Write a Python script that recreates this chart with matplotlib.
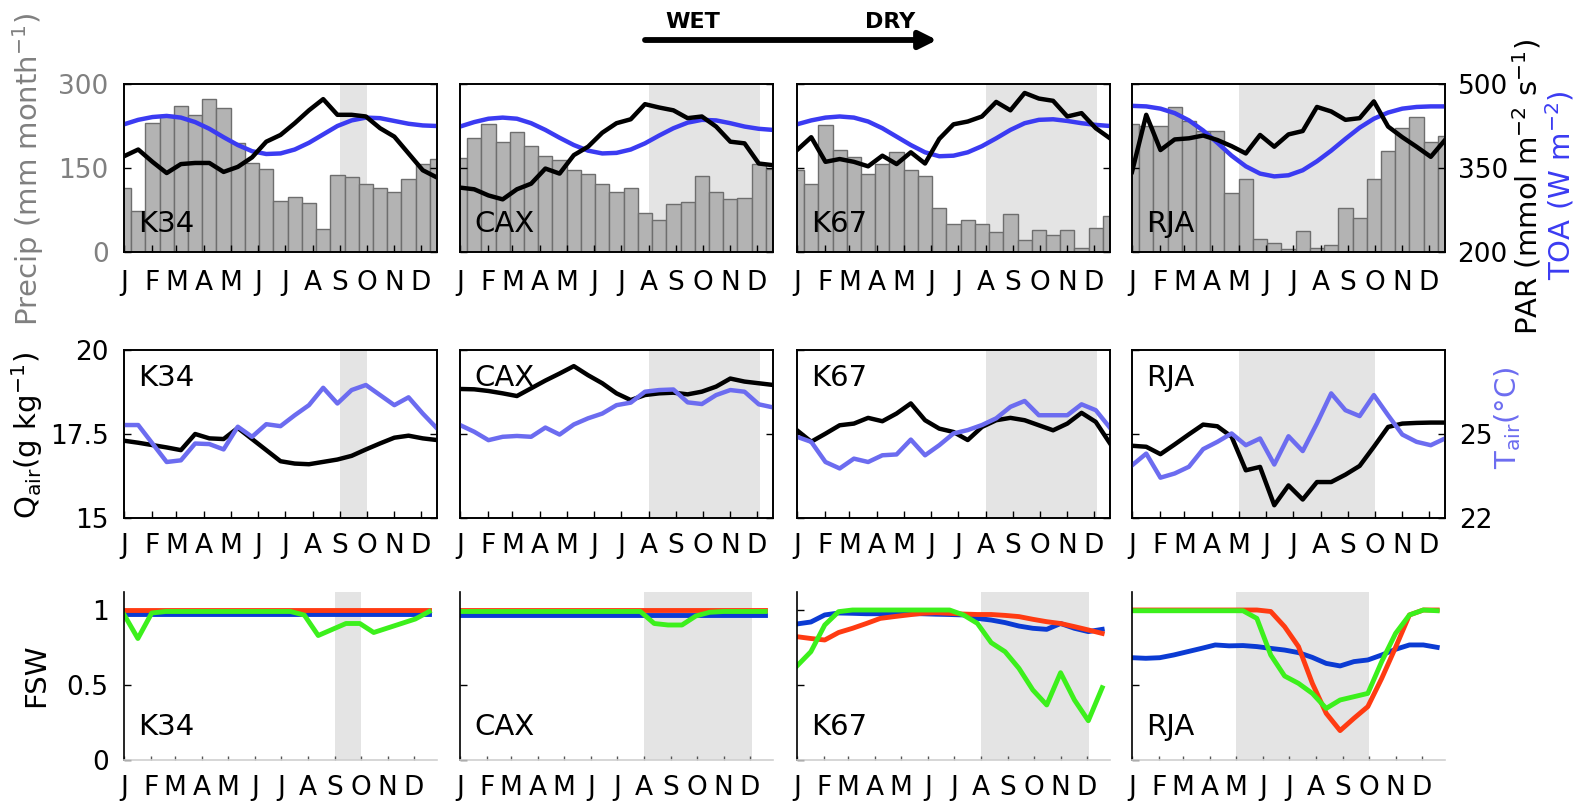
import numpy as np
import matplotlib
matplotlib.use('Agg')
import matplotlib.pyplot as plt

plt.rcParams['font.family'] = ['DejaVu Sans']
plt.rcParams['mathtext.default'] = 'regular'

sites = ['K34', 'CAX', 'K67', 'RJA']
doy = np.arange(1, 354, 16)  # 16-day periods
month_doy = [1, 32, 60, 91, 121, 152, 182, 213, 244, 274, 305, 335]
month_lbl = ['J', 'F', 'M', 'A', 'M', 'J', 'J', 'A', 'S', 'O', 'N', 'D']

dry = {'K34': (244, 274), 'CAX': (213, 338), 'K67': (213, 338), 'RJA': (121, 274)}

# precipitation (mm month-1)
precip = {
    'K34': [115, 73, 231, 245, 260, 245, 273, 258, 194, 159, 149, 91, 99, 87, 41, 137, 134, 121, 115, 108, 130, 157, 166],
    'CAX': [168, 204, 228, 196, 215, 190, 171, 164, 146, 139, 122, 107, 115, 69, 57, 85, 89, 136, 107, 95, 97, 158, 149],
    'K67': [146, 122, 227, 182, 170, 140, 158, 179, 146, 135, 78, 50, 57, 50, 35, 67, 21, 39, 31, 39, 7, 42, 64],
    'RJA': [228, 225, 225, 259, 234, 216, 216, 106, 130, 24, 16, 6, 38, 8, 12, 78, 60, 130, 181, 222, 241, 196, 207],
}
# PAR (mmol m-2 s-1)
par = {
    'K34': [371, 383, 361, 341, 357, 359, 359, 343, 352, 369, 397, 409, 430, 453, 473, 445, 445, 442, 421, 406, 376, 346, 333],
    'CAX': [315, 312, 301, 294, 312, 322, 349, 340, 373, 388, 413, 430, 437, 464, 458, 453, 439, 442, 424, 397, 394, 358, 355],
    'K67': [382, 405, 361, 366, 361, 353, 372, 357, 378, 358, 402, 428, 433, 442, 468, 453, 484, 474, 470, 442, 448, 421, 403],
    'RJA': [343, 445, 382, 401, 403, 408, 400, 389, 376, 409, 388, 410, 416, 459, 451, 436, 439, 469, 424, 405, 388, 370, 400],
}
# top of atmosphere radiation (W m-2)
toa = {
    'K34': [428, 436, 441, 443, 440, 432, 420, 405, 391, 380, 375, 376, 383, 395, 410, 425, 435, 440, 439, 434, 429, 426, 425],
    'CAX': [424, 432, 438, 440, 438, 430, 418, 404, 391, 381, 376, 377, 383, 394, 408, 421, 431, 436, 435, 430, 424, 420, 418],
    'K67': [428, 435, 440, 442, 440, 433, 421, 406, 391, 378, 371, 372, 378, 389, 403, 418, 430, 436, 437, 434, 430, 427, 425],
    'RJA': [461, 460, 456, 448, 435, 417, 395, 372, 353, 340, 335, 337, 346, 362, 381, 402, 422, 438, 449, 456, 459, 460, 460],
}
# specific humidity (g kg-1)
qair = {
    'K34': [17.30, 17.24, 17.17, 17.10, 17.02, 17.50, 17.37, 17.35, 17.68, 17.35, 17.02, 16.69, 16.62, 16.60, 16.67, 16.74, 16.85, 17.04, 17.22, 17.39, 17.45, 17.37, 17.32],
    'CAX': [18.84, 18.83, 18.78, 18.71, 18.63, 18.86, 19.09, 19.30, 19.52, 19.25, 19.01, 18.71, 18.51, 18.66, 18.71, 18.73, 18.68, 18.76, 18.91, 19.15, 19.06, 19.01, 18.96],
    'K67': [17.61, 17.27, 17.51, 17.76, 17.81, 17.98, 17.88, 18.11, 18.41, 17.91, 17.66, 17.56, 17.32, 17.71, 17.91, 17.98, 17.91, 17.76, 17.61, 17.81, 18.13, 17.86, 17.22],
    'RJA': [17.15, 17.12, 16.90, 17.19, 17.49, 17.78, 17.73, 17.42, 16.42, 16.52, 15.38, 15.97, 15.55, 16.07, 16.07, 16.29, 16.55, 17.12, 17.71, 17.81, 17.83, 17.84, 17.84],
}
# air temperature (deg C)
tair = {
    'K34': [25.32, 25.32, 24.66, 24.00, 24.06, 24.66, 24.64, 24.45, 25.26, 24.90, 25.35, 25.28, 25.67, 26.03, 26.65, 26.09, 26.57, 26.75, 26.39, 26.03, 26.31, 25.73, 25.20],
    'CAX': [25.32, 25.08, 24.78, 24.90, 24.93, 24.90, 25.23, 24.98, 25.34, 25.56, 25.73, 26.03, 26.12, 26.51, 26.57, 26.59, 26.13, 26.07, 26.39, 26.57, 26.51, 26.06, 25.95],
    'K67': [24.90, 24.72, 24.00, 23.77, 24.12, 24.00, 24.24, 24.27, 24.80, 24.24, 24.60, 25.02, 25.14, 25.32, 25.56, 25.97, 26.18, 25.67, 25.67, 25.67, 26.06, 25.85, 25.22],
    'RJA': [23.88, 24.30, 23.44, 23.59, 23.83, 24.46, 24.72, 25.02, 24.60, 24.84, 23.91, 24.92, 24.39, 25.38, 26.45, 25.85, 25.64, 26.39, 25.67, 24.98, 24.72, 24.60, 24.84],
}
# fraction of soil water, three layers
fsw_red = {
    'K34': [1.0] * 23,
    'CAX': [1.0] * 23,
    'K67': [0.822, 0.81, 0.80, 0.85, 0.878, 0.91, 0.944, 0.956, 0.967, 0.978, 0.982, 0.978, 0.973, 0.97, 0.97, 0.964, 0.956, 0.938, 0.922, 0.91, 0.889, 0.867, 0.844],
    'RJA': [1.0, 1.0, 1.0, 1.0, 1.0, 1.0, 1.0, 1.0, 1.0, 1.0, 0.99, 0.889, 0.756, 0.511, 0.311, 0.196, 0.278, 0.356, 0.544, 0.751, 0.967, 1.0, 1.0],
}
fsw_blue = {
    'K34': [0.975] * 23,
    'CAX': [0.97] * 23,
    'K67': [0.907, 0.92, 0.967, 0.98, 0.978, 0.975, 0.975, 0.975, 0.975, 0.975, 0.972, 0.97, 0.967, 0.944, 0.933, 0.916, 0.893, 0.878, 0.871, 0.91, 0.878, 0.856, 0.871],
    'RJA': [0.682, 0.678, 0.682, 0.70, 0.722, 0.744, 0.767, 0.761, 0.763, 0.756, 0.744, 0.733, 0.716, 0.684, 0.644, 0.627, 0.656, 0.667, 0.70, 0.738, 0.767, 0.767, 0.751],
}
fsw_green = {
    'K34': [0.97, 0.81, 0.98, 0.99, 0.99, 0.99, 0.99, 0.99, 0.99, 0.99, 0.99, 0.99, 0.99, 0.966, 0.83, 0.87, 0.91, 0.91, 0.85, 0.88, 0.91, 0.94, 0.99],
    'CAX': [0.99, 0.99, 0.99, 0.99, 0.99, 0.99, 0.99, 0.99, 0.99, 0.99, 0.99, 0.99, 0.99, 0.99, 0.91, 0.90, 0.90, 0.96, 0.985, 0.99, 0.99, 0.99, 0.99],
    'K67': [0.627, 0.722, 0.90, 0.989, 1.0, 1.0, 1.0, 1.0, 1.0, 1.0, 1.0, 1.0, 0.967, 0.911, 0.782, 0.722, 0.611, 0.467, 0.367, 0.582, 0.40, 0.262, 0.482],
    'RJA': [0.995, 0.995, 0.995, 0.995, 0.995, 0.995, 0.995, 0.995, 0.995, 0.944, 0.70, 0.56, 0.511, 0.444, 0.344, 0.40, 0.422, 0.444, 0.656, 0.844, 0.967, 1.0, 0.995],
}

W, H = 1576, 809
fig = plt.figure(figsize=(W / 100, H / 100), dpi=100)

lefts = [124, 460, 797, 1132]
axw = 313
rows_top = [84, 350, 592]
axh = 168

shade = '#e4e4e4'
blue_toa = '#3b3bf2'
blue_t = '#6c6cf0'
fs_tick = 19
fs_site = 21
lw_line = 3.2

def px_axes(left, top):
    return fig.add_axes([left / W, 1 - (top + axh) / H, axw / W, axh / H])

def style(ax, lw=1.2):
    ax.tick_params(direction='in', length=5, width=1, labelsize=fs_tick)
    for sp in ax.spines.values():
        sp.set_linewidth(lw)

for i, s in enumerate(sites):
    # row 1: precipitation, PAR and TOA
    ax1 = px_axes(lefts[i], rows_top[0])
    ax1.axvspan(dry[s][0], dry[s][1], color=shade, lw=0, zorder=0)
    ax1.bar(doy, precip[s], width=16, color='#b3b3b3', edgecolor='#6e6e6e', lw=1.0, zorder=1)
    ax1.set_xlim(1, 353)
    ax1.set_ylim(0, 300)
    ax1.set_yticks([0, 150, 300])
    ax1.set_xticks(month_doy)
    ax1.set_xticklabels(month_lbl)
    style(ax1)
    ax1.tick_params(axis='x', pad=13)
    ax1.tick_params(axis='y', pad=11, labelcolor='#808080')
    if i > 0:
        ax1.set_yticklabels([])
    ax1.text(0.045, 0.165, s, transform=ax1.transAxes, fontsize=fs_site, va='center', zorder=5)
    ax2 = ax1.twinx()
    ax2.plot(doy, toa[s], color=blue_toa, lw=lw_line)
    ax2.plot(doy, par[s], color='k', lw=lw_line)
    ax2.set_ylim(200, 500)
    ax2.set_yticks([200, 350, 500])
    style(ax2)
    ax2.tick_params(axis='y', pad=9)
    if i < 3:
        ax2.set_yticklabels([])

    # row 2: Qair and Tair
    ax3 = px_axes(lefts[i], rows_top[1])
    ax3.axvspan(dry[s][0], dry[s][1], color=shade, lw=0, zorder=0)
    ax3.plot(doy, qair[s], color='k', lw=lw_line)
    ax3.set_xlim(1, 353)
    ax3.set_ylim(15, 20)
    ax3.set_yticks([15, 17.5, 20])
    ax3.set_yticklabels(['15', '17.5', '20'])
    ax3.set_xticks(month_doy)
    ax3.set_xticklabels(month_lbl)
    style(ax3)
    ax3.tick_params(axis='x', pad=11)
    ax3.tick_params(axis='y', pad=11)
    if i > 0:
        ax3.set_yticklabels([])
    ax3.text(0.045, 0.835, s, transform=ax3.transAxes, fontsize=fs_site, va='center', zorder=5)
    ax4 = ax3.twinx()
    ax4.plot(doy, tair[s], color=blue_t, lw=lw_line)
    ax4.set_ylim(22, 28)
    ax4.set_yticks([22, 25])
    style(ax4)
    ax4.tick_params(axis='y', pad=10)
    if i < 3:
        ax4.set_yticklabels([])

    # row 3: fraction of soil water
    ax5 = px_axes(lefts[i], rows_top[2])
    ax5.axvspan(dry[s][0], dry[s][1], color=shade, lw=0, zorder=0)
    ax5.plot(doy, fsw_blue[s], color='#0b3bd3', lw=3.5)
    ax5.plot(doy, fsw_red[s], color='#ff3b12', lw=3.5)
    ax5.plot(doy, fsw_green[s], color='#3cf01c', lw=3.5)
    ax5.set_xlim(1, 362)
    ax5.set_ylim(0, 1.12)
    ax5.set_yticks([0, 0.5, 1])
    ax5.set_yticklabels(['0', '0.5', '1'])
    ax5.set_xticks(month_doy)
    ax5.set_xticklabels(month_lbl)
    style(ax5)
    ax5.spines['top'].set_visible(False)
    ax5.spines['right'].set_visible(False)
    ax5.spines['bottom'].set_color('#d0d0d0')
    ax5.tick_params(axis='x', pad=11, color='#555555', length=3)
    ax5.tick_params(axis='y', pad=11)
    if i > 0:
        ax5.set_yticklabels([])
    ax5.text(0.045, 0.195, s, transform=ax5.transAxes, fontsize=fs_site, va='center', zorder=5)

# axis titles
fig.text(28 / W, 1 - 169 / H, 'Precip (mm month$^{-1}$)', rotation=90, color='#808080',
         ha='center', va='center', fontsize=21)
fig.text(1527 / W, 1 - 187 / H, 'PAR (mmol m$^{-2}$ s$^{-1}$)', rotation=90, color='k',
         ha='center', va='center', fontsize=21)
fig.text(1560 / W, 1 - 185 / H, 'TOA (W m$^{-2}$)', rotation=90, color=blue_toa,
         ha='center', va='center', fontsize=21)
fig.text(27 / W, 1 - 435 / H, 'Q$_{air}$(g kg$^{-1}$)', rotation=90, color='k',
         ha='center', va='center', fontsize=21)
fig.text(1508 / W, 1 - 418 / H, 'T$_{air}$(°C)', rotation=90, color=blue_t,
         ha='center', va='center', fontsize=21)
fig.text(36 / W, 1 - 675 / H, 'FSW', rotation=90, color='k',
         ha='center', va='center', fontsize=21)

# wet -> dry arrow
fig.add_artist(plt.Annotation('', xy=(937 / W, 1 - 40 / H), xytext=(645 / W, 1 - 40 / H),
                              xycoords='figure fraction', textcoords='figure fraction',
                              arrowprops=dict(arrowstyle='-|>', lw=4.2, color='k',
                                              mutation_scale=26, shrinkA=0, shrinkB=0)))
fig.text(693 / W, 1 - 22 / H, 'WET', ha='center', va='center', fontsize=16, fontweight='bold')
fig.text(890 / W, 1 - 22 / H, 'DRY', ha='center', va='center', fontsize=16, fontweight='bold')

fig.savefig('out.png', dpi=100)
